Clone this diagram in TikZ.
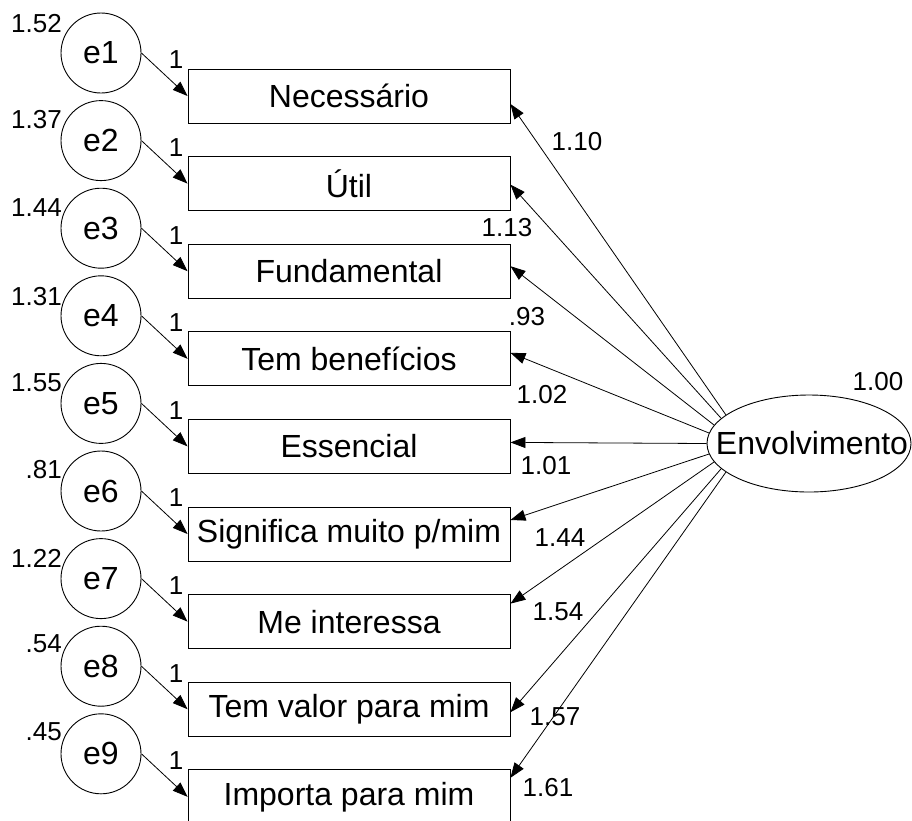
\documentclass[tikz,border=0pt]{standalone}
\usepackage{fontspec}
\setmainfont{Liberation Sans}
\usetikzlibrary{arrows.meta,calc,shapes.geometric}
\begin{document}
\begin{tikzpicture}[x=1pt,y=-1pt,
  obs/.style={draw, line width=0.9pt, minimum width=322pt, minimum height=54pt, inner sep=0pt, font=\fontsize{32}{32}\selectfont},
  err/.style={draw, circle, line width=0.9pt, minimum size=80pt, inner sep=0pt, font=\fontsize{32}{32}\selectfont},
  lat/.style={draw, ellipse, line width=0.9pt, minimum width=204pt, minimum height=97pt, inner sep=0pt},
  lattext/.style={inner sep=0pt, font=\fontsize{32}{32}\selectfont},
  lbl/.style={inner sep=0pt, font=\fontsize{26}{26}\selectfont},
  arr/.style={line width=0.8pt, -{Triangle[length=15pt,width=11pt]}}
]
\useasboundingbox (0,0) rectangle (912,820);
\clip (0,0) rectangle (912,820);

% observed variables
\node[obs] (b1) at (349,96) {Necessário};
\node[obs] (b2) at (349,183.6) {Útil};
\node[obs] (b3) at (349,271.2) {Fundamental};
\node[obs] (b4) at (349,358.8) {Tem benefícios};
\node[obs] (b5) at (349,446.4) {Essencial};
\node[obs] (b6) at (349,534) {Significa muito p/mim};
\node[obs] (b7) at (349,621.6) {Me interessa};
\node[obs] (b8) at (349,709.2) {Tem valor para mim};
\node[obs] (b9) at (349,796.8) {Importa para mim};

% error terms
\node[err] (e1) at (101,53) {e1};
\node[err] (e2) at (101,140.6) {e2};
\node[err] (e3) at (101,228.2) {e3};
\node[err] (e4) at (101,315.8) {e4};
\node[err] (e5) at (101,403.4) {e5};
\node[err] (e6) at (101,491) {e6};
\node[err] (e7) at (101,578.6) {e7};
\node[err] (e8) at (101,666.2) {e8};
\node[err] (e9) at (101,753.8) {e9};

% latent
\node[lat] (env) at (809,443.5) {};
\node[lattext] (envt) at (812,443.5) {Envolvimento};
\node[lbl] (venv) at (878,382) {1.00};

% variances of errors
\node[lbl, anchor=east] (v1) at (62,23.5) {1.52};
\node[lbl, anchor=east] (v2) at (62,120) {1.37};
\node[lbl, anchor=east] (v3) at (62,208) {1.44};
\node[lbl, anchor=east] (v4) at (62,296.5) {1.31};
\node[lbl, anchor=east] (v5) at (62,383) {1.55};
\node[lbl, anchor=east] (v6) at (62,470) {.81};
\node[lbl, anchor=east] (v7) at (62,558) {1.22};
\node[lbl, anchor=east] (v8) at (62,644) {.54};
\node[lbl, anchor=east] (v9) at (62,732) {.45};

% error paths
\draw[arr] (e1.east) -- (b1.west);
\draw[arr] (e2.east) -- (b2.west);
\draw[arr] (e3.east) -- (b3.west);
\draw[arr] (e4.east) -- (b4.west);
\draw[arr] (e5.east) -- (b5.west);
\draw[arr] (e6.east) -- (b6.west);
\draw[arr] (e7.east) -- (b7.west);
\draw[arr] (e8.east) -- (b8.west);
\draw[arr] (e9.east) -- (b9.west);

\node[lbl] (w1) at (176,60) {1};
\node[lbl] (w2) at (176,147.6) {1};
\node[lbl] (w3) at (176,235.2) {1};
\node[lbl] (w4) at (176,322.8) {1};
\node[lbl] (w5) at (176,410.4) {1};
\node[lbl] (w6) at (176,498) {1};
\node[lbl] (w7) at (176,585.6) {1};
\node[lbl] (w8) at (176,673.2) {1};
\node[lbl] (w9) at (176,760.8) {1};

% loadings
\draw[arr] (env.161) -- ([yshift=-8pt]b1.east);
\draw[arr] (env.164) -- ([yshift=-1pt]b2.east);
\draw[arr] (env.169) -- ([yshift=5pt]b3.east);
\draw[arr] (env.174) -- ([yshift=6pt]b4.east);
\draw[arr] (env.180) -- ([yshift=4pt]b5.east);
\draw[arr] (env.186) -- ([yshift=14pt]b6.east);
\draw[arr] (env.191) -- ([yshift=18pt]b7.east);
\draw[arr] (env.196) -- ([yshift=-3pt]b8.east);
\draw[arr] (env.199) -- ([yshift=19pt]b9.east);

\node[lbl] (l1) at (577,142) {1.10};
\node[lbl] (l2) at (507,228) {1.13};
\node[lbl] (l3) at (527,317) {.93};
\node[lbl] (l4) at (542,395) {1.02};
\node[lbl] (l5) at (546,466) {1.01};
\node[lbl] (l6) at (560,538) {1.44};
\node[lbl] (l7) at (558,612) {1.54};
\node[lbl] (l8) at (555,717) {1.57};
\node[lbl] (l9) at (548,788) {1.61};
\end{tikzpicture}
\end{document}
